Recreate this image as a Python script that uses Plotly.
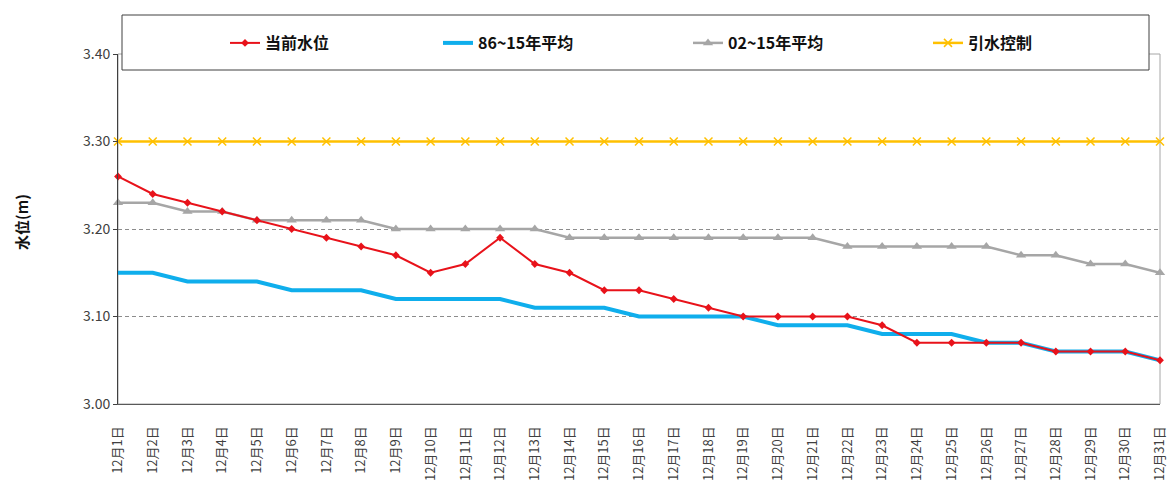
import plotly.graph_objects as go

days = [f"12月{d}日" for d in range(1, 32)]

current_level = [3.26, 3.24, 3.23, 3.22, 3.21, 3.20, 3.19, 3.18, 3.17, 3.15,
                 3.16, 3.19, 3.16, 3.15, 3.13, 3.13, 3.12, 3.11, 3.10, 3.10,
                 3.10, 3.10, 3.09, 3.07, 3.07, 3.07, 3.07, 3.06, 3.06, 3.06, 3.05]
avg_86_15 = [3.15, 3.15, 3.14, 3.14, 3.14, 3.13, 3.13, 3.13, 3.12, 3.12,
             3.12, 3.12, 3.11, 3.11, 3.11, 3.10, 3.10, 3.10, 3.10, 3.09,
             3.09, 3.09, 3.08, 3.08, 3.08, 3.07, 3.07, 3.06, 3.06, 3.06, 3.05]
avg_02_15 = [3.23, 3.23, 3.22, 3.22, 3.21, 3.21, 3.21, 3.21, 3.20, 3.20,
             3.20, 3.20, 3.20, 3.19, 3.19, 3.19, 3.19, 3.19, 3.19, 3.19,
             3.19, 3.18, 3.18, 3.18, 3.18, 3.18, 3.17, 3.17, 3.16, 3.16, 3.15]
diversion_ctrl = [3.30] * 31

names = ["当前水位", "86~15年平均", "02~15年平均", "引水控制"]

W, H = 1168, 483
L, R, T, B = 118, 8, 54, 79
pw = W - L - R
ph = H - T - B

def px_x(x):
    return (x - L) / pw

def px_y(y):
    return (H - B - y) / ph

fig = go.Figure()

fig.add_trace(go.Scatter(
    x=days, y=avg_86_15, name=names[1], mode="lines",
    line=dict(color="#0FAEEC", width=4), cliponaxis=False, legendrank=2,
    legendwidth=205,
))
fig.add_trace(go.Scatter(
    x=days, y=avg_02_15, name=names[2], mode="lines+markers",
    line=dict(color="#A6A6A6", width=2.5),
    marker=dict(symbol="triangle-up", size=9, color="#A6A6A6"),
    cliponaxis=False, legendrank=3, legendwidth=195,
))
fig.add_trace(go.Scatter(
    x=days, y=diversion_ctrl, name=names[3], mode="lines+markers",
    line=dict(color="#FFC000", width=2.5),
    marker=dict(symbol="x-thin", size=8, color="#FFC000",
                line=dict(color="#FFC000", width=1.5)),
    cliponaxis=False, legendrank=4, legendwidth=150,
))
fig.add_trace(go.Scatter(
    x=days, y=current_level, name=names[0], mode="lines+markers",
    line=dict(color="#E8121A", width=2),
    marker=dict(symbol="diamond", size=6, color="#E8121A"),
    cliponaxis=False, legendrank=1, legendwidth=168,
))

fig.update_layout(
    width=W, height=H,
    margin=dict(l=L, r=R, t=T, b=B, autoexpand=False),
    template="none",
    paper_bgcolor="white", plot_bgcolor="white",
    font=dict(family="Noto Sans CJK SC", color="#404040", size=13),
    showlegend=True,
    legend=dict(
        orientation="h", x=px_x(225), xanchor="left", y=px_y(43), yanchor="middle",
        bgcolor="rgba(0,0,0,0)", borderwidth=0,
        font=dict(family="Noto Sans CJK SC", size=16, color="#111111", weight="bold"),
        traceorder="normal",
    ),
    shapes=[
        dict(type="rect", xref="paper", yref="paper", x0=0, x1=1, y0=0, y1=1,
             line=dict(color="#A6A6A6", width=1), fillcolor="rgba(0,0,0,0)", layer="below"),
        dict(type="rect", xref="paper", yref="paper",
             x0=px_x(122), x1=px_x(1149), y0=px_y(70), y1=px_y(15),
             line=dict(color="#404040", width=1), fillcolor="white", layer="above"),
    ],
    annotations=[
        dict(text="<b>水位(m)</b>", xref="paper", yref="paper",
             x=px_x(21), y=0.52, xanchor="center", yanchor="middle",
             textangle=-90, showarrow=False,
             font=dict(family="Noto Sans CJK SC", size=15, color="#111111")),
    ],
)

fig.update_xaxes(
    type="category", range=[0, 30], tickmode="linear", dtick=1,
    tickangle=-90, automargin=False, showgrid=False,
    showline=True, linecolor="#595959", linewidth=1,
    ticks="", ticklabelstandoff=16,
    tickfont=dict(family="Noto Sans CJK SC", size=13, color="#404040"),
    zeroline=False,
)
fig.update_yaxes(
    range=[3.0, 3.4], dtick=0.1, tick0=3.0, tickformat=".2f", automargin=False,
    showgrid=True, gridcolor="#8C8C8C", griddash="4px,3px", gridwidth=1,
    showline=True, linecolor="#404040", linewidth=1,
    ticks="outside", ticklen=4, tickcolor="#404040",
    tickfont=dict(family="Noto Sans CJK SC", size=14, color="#404040"),
    zeroline=False,
)

fig.write_html(
    "out.html",
    config={"displayModeBar": False},
    post_script="document.body.style.margin='0';document.body.style.overflow='hidden';",
)
